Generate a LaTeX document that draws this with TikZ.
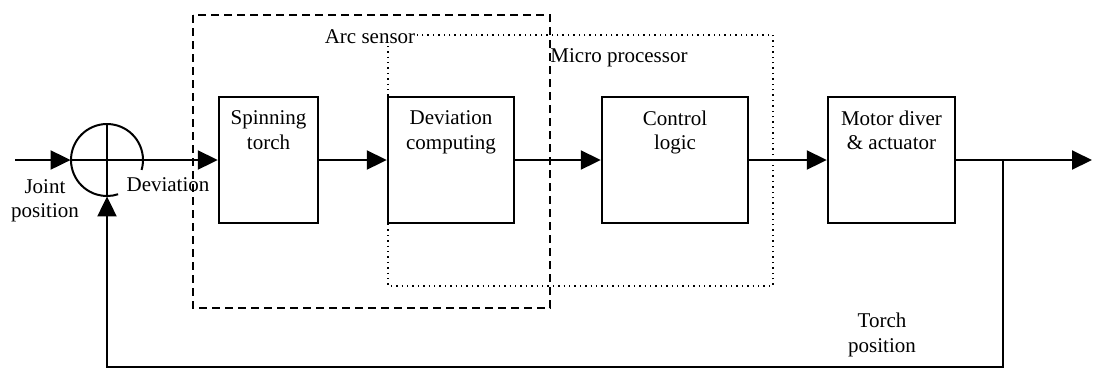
\documentclass[tikz,border=0pt]{standalone}
\usepackage{fontspec}
\setmainfont{Liberation Serif}
\usetikzlibrary{positioning,arrows.meta}

\begin{document}
\begin{tikzpicture}[
    x=0.5pt,y=-0.5pt,
    font=\fontsize{10.5}{12.2}\selectfont,
    box/.style={draw,line width=1.2pt,minimum height=63pt,inner sep=0pt},
    title/.style={anchor=north,align=center,yshift=-4pt},
    arrow/.style={-{Triangle[length=10pt,width=9.5pt]},line width=1pt},
    signal/.style={line width=1pt},
    group/.style={line width=1pt,dash pattern=on 4pt off 2.5pt},
    proc/.style={line width=0.7pt,dotted}
  ]
    \useasboundingbox (0,0) rectangle (1094,372);
    % grouping frames
    \draw[proc] (388,35) rectangle (773,286);
    \draw[group] (193,15) rectangle (550,308);
    \node[fill=white,inner sep=1pt] (arc) at (370,37) {Arc sensor};
    \node (micro) at (619,58) {Micro processor};
    % summing junction
    \node[circle,minimum size=36pt,inner sep=0pt] (sum) at (107,160) {};
    \draw[signal] ([shift={(-16:18pt)}]sum.center) arc[start angle=-16,end angle=288,radius=18pt];
    \draw[signal] (sum.west)--(sum.east) (sum.north)--(sum.south);
    % blocks
    \node[box,minimum width=49.5pt,label={[title]north:Spinning\\torch}] (torch) at (268.5,160) {};
    \node[box,minimum width=63pt,label={[title]north:Deviation\\computing}] (dev) at (451,160) {};
    \node[box,minimum width=73pt,label={[title]north:Control\\logic}] (ctrl) at (675,160) {};
    \node[box,minimum width=63.5pt,label={[title]north:Motor diver\\\& actuator}] (motor) at (891.5,160) {};
    \coordinate (in) at (15,160);
    \coordinate (out) at (1092,160);
    \coordinate (branch) at (1003,160);
    \coordinate (low) at (1003,367);
    % signal path
    \draw[arrow] (in)--(sum.west); \draw[arrow] (sum.east)--(torch.west);
    \draw[arrow] (torch)--(dev); \draw[arrow] (dev)--(ctrl);
    \draw[arrow] (ctrl)--(motor); \draw[arrow] (motor)--(out);
    \draw[arrow] (branch)--(low)-|(sum.south);
    % signal labels
    \node[align=center] (joint) at (45,201) {Joint\\position};
    \node (dlabel) at (168,185) {Deviation};
    \node[align=center] (tpos) at (882,335) {Torch\\position};
  \end{tikzpicture}
\end{document}
